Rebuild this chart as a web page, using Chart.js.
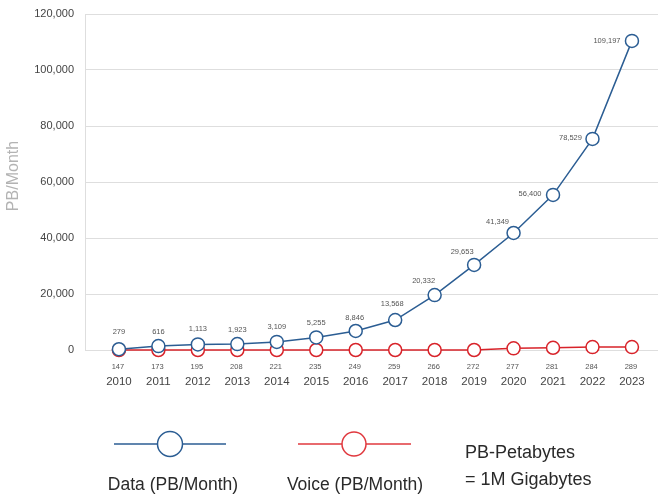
<!DOCTYPE html>
<html>
<head>
<meta charset="utf-8">
<script src="https://cdn.jsdelivr.net/npm/chart.js@4"></script>
<style>
  html, body { margin: 0; padding: 0; background: #fff; }
  #wrap { width: 658px; height: 498px; position: relative; }
</style>
</head>
<body>
<div id="wrap"><canvas id="chart" width="658" height="498"></canvas></div>
<script>
const years = [2010, 2011, 2012, 2013, 2014, 2015, 2016, 2017, 2018, 2019, 2020, 2021, 2022, 2023];
// plotted values read from the point positions
const dataValues = [280, 1400, 2000, 2100, 2900, 4500, 6800, 10700, 19600, 30400, 41800, 55400, 75400, 110400];
const voiceValues = [0, 0, 0, 0, 0, 0, 0, 0, 0, 0, 600, 800, 1050, 1050];
// printed labels
const dataLabels = ['279', '616', '1,113', '1,923', '3,109', '5,255', '8,846', '13,568', '20,332', '29,653', '41,349', '56,400', '78,529', '109,197'];
const voiceLabels = ['147', '173', '195', '208', '221', '235', '249', '259', '266', '272', '277', '281', '284', '289'];
const yTicks = [0, 20000, 40000, 60000, 80000, 100000, 120000];

// where each data label sits relative to its point
const dataLabelOffsets = [[0, -17], [0, -14], [0, -15], [0, -14], [0, -15], [0, -14], [-1, -13],
    [-3, -16], [-11, -14], [-12, -13], [-16, -11], [-23, -1], [-22, -1], [-25, 0]];

const BLUE = '#2b5d93';
const RED = '#d8232a';
const FONT = '"Liberation Sans", Arial, sans-serif';

const extras = {
    id: 'extras',
    afterDatasetsDraw(chart) {
        const ctx = chart.ctx;
        const yScale = chart.scales.y;
        const zeroY = yScale.getPixelForValue(0);
        ctx.save();
        ctx.font = '7.5px ' + FONT;
        ctx.fillStyle = '#555';
        ctx.textAlign = 'center';
        ctx.textBaseline = 'middle';
        chart.getDatasetMeta(0).data.forEach((pt, i) => {
            const o = dataLabelOffsets[i];
            ctx.fillText(dataLabels[i], pt.x + o[0], pt.y + o[1]);
        });
        chart.getDatasetMeta(1).data.forEach((pt, i) => {
            ctx.fillText(voiceLabels[i], pt.x - 1, zeroY + 17);
        });

        // y axis title
        ctx.save();
        ctx.translate(14, 176);
        ctx.rotate(-Math.PI / 2);
        ctx.font = '16px ' + FONT;
        ctx.fillStyle = '#b3b3b3';
        ctx.fillText('PB/Month', 0, 0);
        ctx.restore();

        // legend
        const drawKey = (x1, x2, cx, cy, color, r) => {
            ctx.strokeStyle = color;
            ctx.lineWidth = 1.5;
            ctx.beginPath();
            ctx.moveTo(x1, cy); ctx.lineTo(x2, cy);
            ctx.stroke();
            ctx.beginPath();
            ctx.arc(cx, cy, r, 0, Math.PI * 2);
            ctx.fillStyle = '#fff';
            ctx.fill();
            ctx.stroke();
        };
        drawKey(114, 226, 170, 444, BLUE, 12.5);
        drawKey(298, 411, 354, 444, '#e0383e', 12);

        ctx.font = '17.5px ' + FONT;
        ctx.fillStyle = '#2a2a2a';
        ctx.fillText('Data (PB/Month)', 173, 485);
        ctx.fillText('Voice (PB/Month)', 355, 485);
        ctx.textAlign = 'left';
        ctx.font = '18px ' + FONT;
        ctx.fillText('PB-Petabytes', 465, 453);
        ctx.fillText('= 1M Gigabytes', 465, 480);
        ctx.restore();
    }
};

new Chart(document.getElementById('chart'), {
    type: 'line',
    data: {
        datasets: [{
            label: 'Data (PB/Month)',
            data: years.map((y, i) => ({ x: y, y: dataValues[i] })),
            borderColor: BLUE,
            borderWidth: 1.5,
            pointRadius: 6.5,
            pointBorderWidth: 1.5,
            pointBackgroundColor: '#fff',
            pointBorderColor: BLUE,
            tension: 0,
            clip: false
        }, {
            label: 'Voice (PB/Month)',
            data: years.map((y, i) => ({ x: y, y: voiceValues[i] })),
            borderColor: RED,
            borderWidth: 1.5,
            pointRadius: 6.5,
            pointBorderWidth: 1.5,
            pointBackgroundColor: '#fff',
            pointBorderColor: RED,
            tension: 0,
            clip: false
        }]
    },
    options: {
        responsive: false,
        animation: false,
        layout: { autoPadding: false, padding: { top: 14, right: 0, bottom: 100, left: 0 } },
        plugins: {
            legend: { display: false },
            tooltip: { enabled: false }
        },
        scales: {
            x: {
                type: 'linear',
                min: 2009.14,
                max: 2023.66,
                afterBuildTicks: axis => { axis.ticks = years.map(v => ({ value: v })); },
                afterFit: axis => {
                    axis.height = 48;
                    axis.paddingLeft = 0;
                    axis.paddingRight = 0;
                },
                grid: { display: false, drawTicks: false },
                border: { display: false },
                ticks: {
                    padding: 25,
                    maxRotation: 0,
                    autoSkip: false,
                    color: '#444',
                    font: { family: FONT, size: 11.5 },
                    callback: v => String(v)
                }
            },
            y: {
                min: 0,
                max: 120000,
                afterBuildTicks: axis => { axis.ticks = yTicks.map(v => ({ value: v })); },
                afterFit: axis => {
                    axis.width = 85;
                    axis.paddingTop = 0;
                    axis.paddingBottom = 0;
                },
                grid: { color: '#dedede', lineWidth: 1, drawTicks: false },
                border: { display: true, color: '#dedede' },
                ticks: {
                    padding: 11,
                    color: '#444',
                    font: { family: FONT, size: 11 },
                    callback: v => v.toLocaleString('en-US')
                }
            }
        }
    },
    plugins: [extras]
});
</script>
</body>
</html>
